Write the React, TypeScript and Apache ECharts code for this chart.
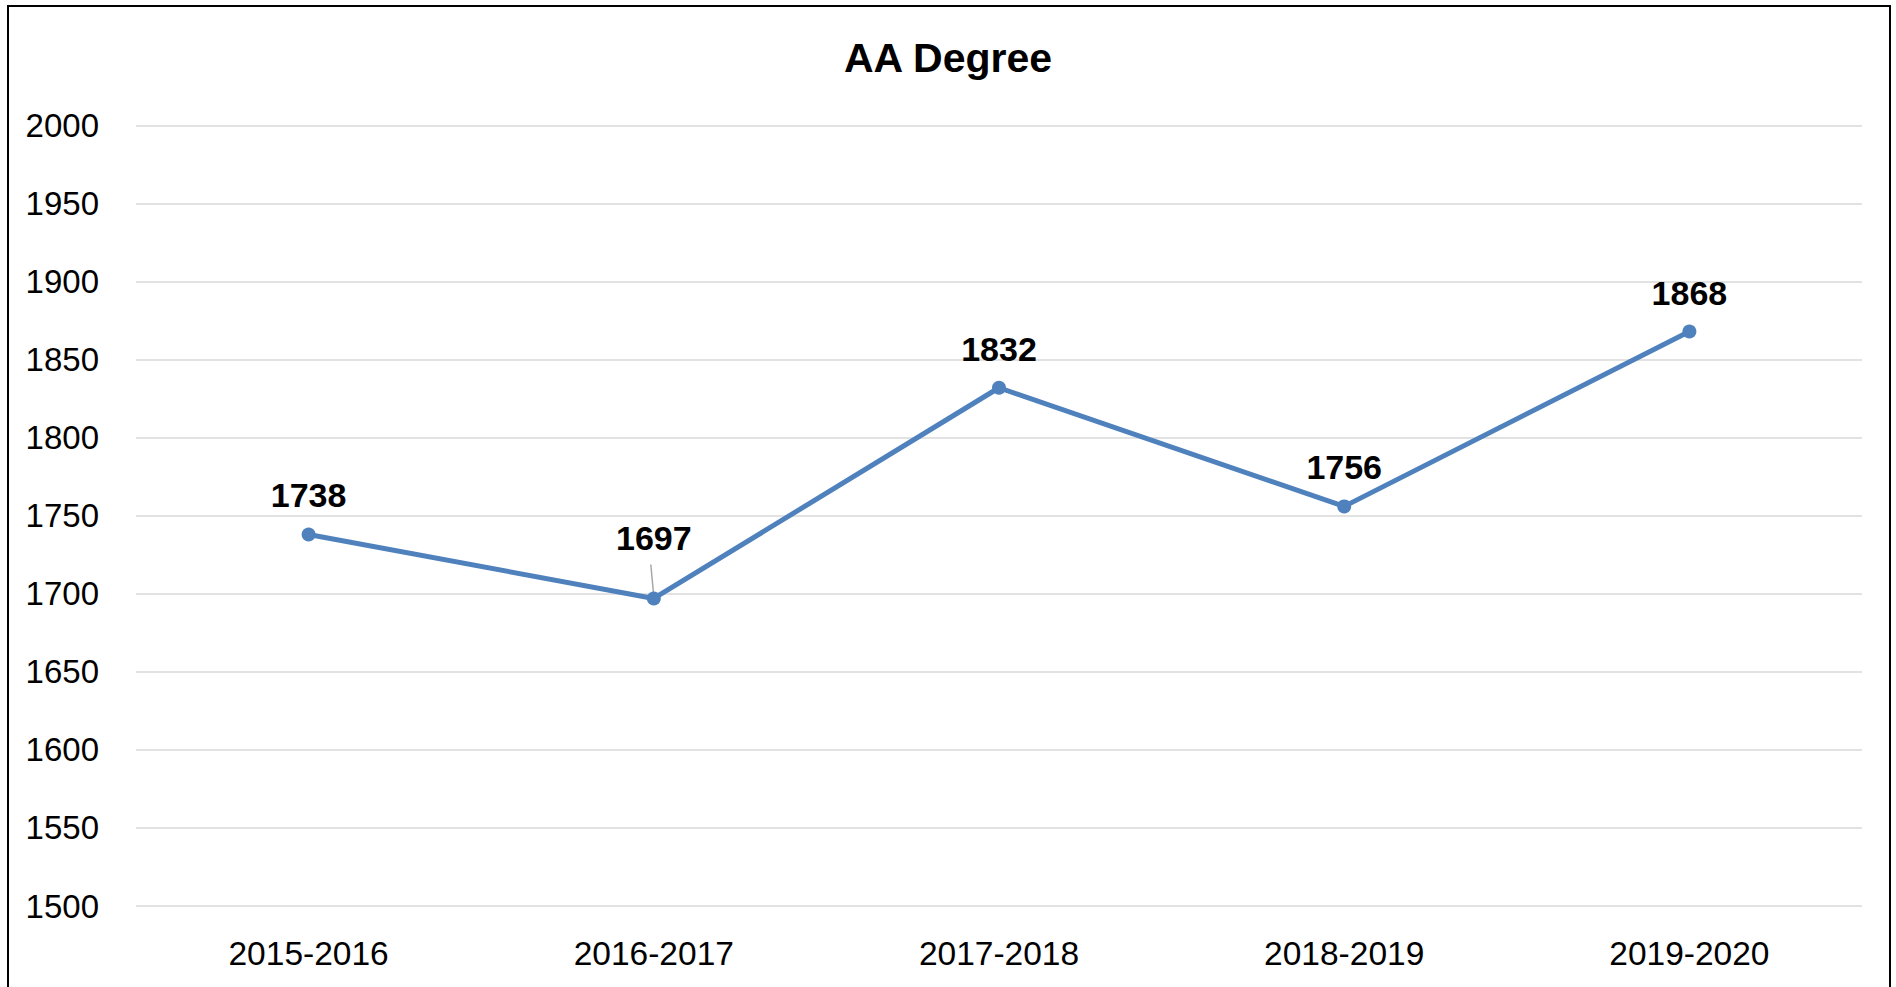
import React, { useEffect, useRef } from "react";
import * as echarts from "echarts";

const categories = ["2015-2016", "2016-2017", "2017-2018", "2018-2019", "2019-2020"];
const values = [1738, 1697, 1832, 1756, 1868];
const yMin = 1500;
const yMax = 2000;
const yInterval = 50;
const titleText = "AA Degree";

export default function App() {
  const ref = useRef<HTMLDivElement>(null);
  useEffect(() => {
    if (!ref.current) return;
    const chart = echarts.init(ref.current, undefined, { renderer: "svg" });
    const font = "'Liberation Sans', Arial, sans-serif";
    const border = {
      type: "rect",
      shape: { x: 8, y: 6, width: 1882, height: 1100 },
      style: { fill: "none", stroke: "#000", lineWidth: 2 },
      silent: true,
    };
    chart.setOption({
      animation: false,
      backgroundColor: "#ffffff",
      title: {
        text: titleText,
        left: "center",
        top: 32,
        textStyle: { fontFamily: font, fontWeight: "bold", fontSize: 41, color: "#000" },
      },
      grid: { left: 136, right: 34, top: 125.5, bottom: 81 },
      xAxis: {
        type: "category",
        data: categories,
        boundaryGap: true,
        axisLine: { show: false },
        axisTick: { show: false },
        axisLabel: { fontFamily: font, fontSize: 33.5, color: "#000", margin: 30 },
      },
      yAxis: {
        type: "value",
        min: yMin,
        max: yMax,
        interval: yInterval,
        axisLine: { show: false },
        axisTick: { show: false },
        splitLine: { lineStyle: { color: "#d9d9d9", width: 1.5 } },
        axisLabel: {
          fontFamily: font,
          fontSize: 33,
          color: "#000",
          margin: 37,
          formatter: (v: number) => String(v),
        },
      },
      graphic: [border],
      series: [
        {
          type: "line",
          data: values.map((v, i) =>
            i === 1 ? { value: v, label: { distance: 36 } } : v
          ),
          symbol: "circle",
          symbolSize: 14,
          lineStyle: { color: "#4f81bd", width: 5 },
          itemStyle: { color: "#4f81bd" },
          label: {
            show: true,
            position: "top",
            distance: 15,
            fontFamily: font,
            fontWeight: "bold",
            fontSize: 34,
            color: "#000",
          },
        },
      ],
    });
    const p = chart.convertToPixel({ xAxisIndex: 0, yAxisIndex: 0 }, [1, values[1]]) as number[];
    chart.setOption({
      graphic: [
        border,
        {
          type: "line",
          shape: { x1: p[0] - 3, y1: p[1] - 34, x2: p[0], y2: p[1] - 2 },
          style: { stroke: "#a6a6a6", lineWidth: 1.5 },
          silent: true,
        },
      ],
    });
    return () => chart.dispose();
  }, []);
  return (
    <div
      ref={ref}
      style={{ position: "absolute", left: 0, top: 0, width: 1896, height: 987 }}
    />
  );
}
